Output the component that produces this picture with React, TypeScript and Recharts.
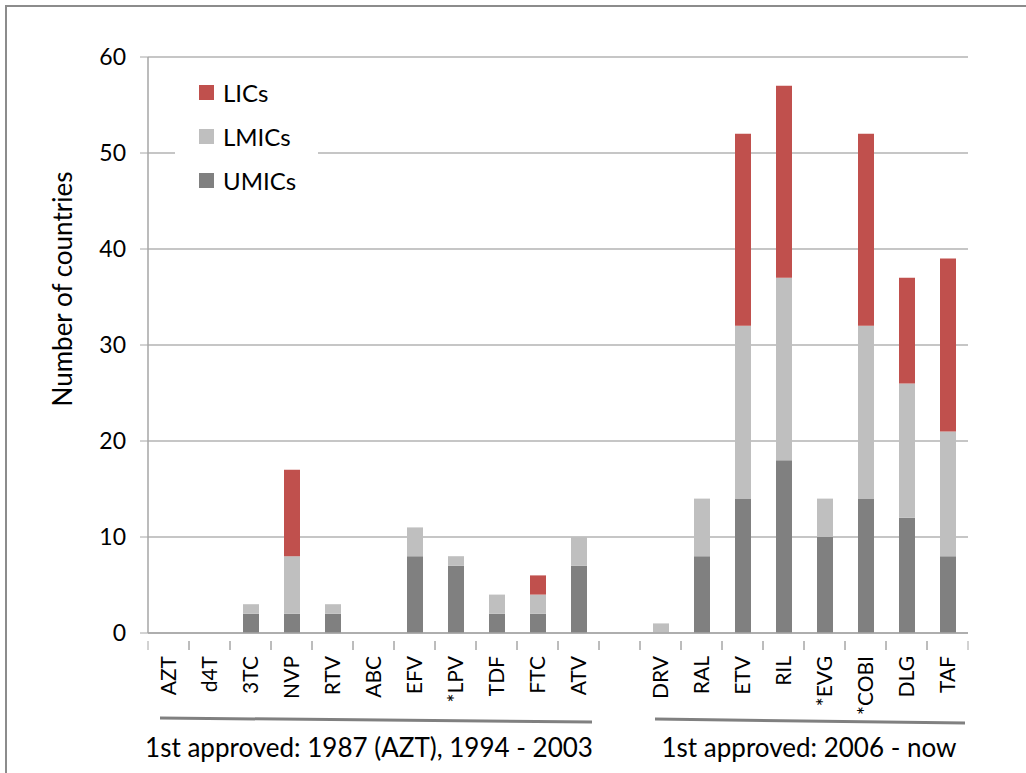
import React from 'react';
import { BarChart, Bar, XAxis, YAxis, CartesianGrid } from 'recharts';

// drug categories, "" is the spacer slot between the two approval periods
const drugs = ['AZT', 'd4T', '3TC', 'NVP', 'RTV', 'ABC', 'EFV', '*LPV', 'TDF', 'FTC', 'ATV', '', 'DRV', 'RAL', 'ETV', 'RIL', '*EVG', '*COBI', 'DLG', 'TAF'];
const umics = [0, 0, 2, 2, 2, 0, 8, 7, 2, 2, 7, 0, 0, 8, 14, 18, 10, 14, 12, 8];
const lmics = [0, 0, 1, 6, 1, 0, 3, 1, 2, 2, 3, 0, 1, 6, 18, 19, 4, 18, 14, 13];
const lics = [0, 0, 0, 9, 0, 0, 0, 0, 0, 2, 0, 0, 0, 0, 20, 20, 0, 20, 11, 18];
const yTicks = [0, 10, 20, 30, 40, 50, 60];

const data = drugs.map((name, i) => ({ name, UMICs: umics[i], LMICs: lmics[i], LICs: lics[i] }));

const FONT = 'Lato, "Liberation Sans", sans-serif';
const AXIS = '#a6a6a6';
const SLOT = 41;

const legendItems = [
  { label: 'LICs', color: '#c0504d' },
  { label: 'LMICs', color: '#bfbfbf' },
  { label: 'UMICs', color: '#808080' },
];

function DrugTick(props: any) {
  const { x, y, payload } = props;
  return (
    <g>
      <line x1={x - SLOT / 2} y1={y} x2={x - SLOT / 2} y2={y + 9} stroke={AXIS} />
      <line x1={x + SLOT / 2} y1={y} x2={x + SLOT / 2} y2={y + 9} stroke={AXIS} />
      <text
        transform={`translate(${x},${y + 15}) rotate(-90)`}
        textAnchor="end"
        dy="0.36em"
        fontSize={21}
        fontFamily={FONT}
        fill="#000"
      >
        {payload.value}
      </text>
    </g>
  );
}

export default function App() {
  return (
    <div style={{ position: 'absolute', left: 0, top: 0, width: 1026, height: 773, background: '#fff', overflow: 'hidden' }}>
      <div style={{ position: 'absolute', left: 5, top: 5, width: 1040, height: 800, borderLeft: '2px solid #8c8c8c', borderTop: '2px solid #8c8c8c' }} />
      <BarChart
        width={1026}
        height={773}
        data={data}
        margin={{ top: 57, right: 58, bottom: 0, left: 0 }}
        barSize={16}
      >
        <CartesianGrid vertical={false} stroke="#b3b3b3" strokeWidth={1.3} />
        <XAxis
          dataKey="name"
          interval={0}
          height={140}
          axisLine={{ stroke: AXIS, strokeWidth: 1.5 }}
          tickLine={false}
          tick={<DrugTick />}
        />
        <YAxis
          width={148}
          domain={[0, 60]}
          ticks={yTicks}
          axisLine={{ stroke: AXIS, strokeWidth: 1.5 }}
          tickLine={{ stroke: AXIS }}
          tickSize={8}
          tickMargin={14}
          tick={{ fontSize: 23, fontFamily: FONT, fill: '#000' }}
        />
        <Bar dataKey="UMICs" stackId="a" fill="#808080" isAnimationActive={false} />
        <Bar dataKey="LMICs" stackId="a" fill="#bfbfbf" isAnimationActive={false} />
        <Bar dataKey="LICs" stackId="a" fill="#c0504d" isAnimationActive={false} />
      </BarChart>
      <div style={{ position: 'absolute', left: 175, top: 70, width: 143, background: '#fff', fontFamily: FONT, fontSize: 24 }}>
        {legendItems.map((it) => (
          <div key={it.label} style={{ display: 'flex', alignItems: 'center', height: 44, paddingLeft: 24 }}>
            <span style={{ width: 15, height: 15, background: it.color, marginRight: 9 }} />
            <span>{it.label}</span>
          </div>
        ))}
      </div>
      <svg width={1026} height={773} style={{ position: 'absolute', left: 0, top: 0, pointerEvents: 'none' }}>
        <text transform="translate(72,289) rotate(-90)" textAnchor="middle" fontSize={26} fontFamily={FONT} fill="#000">Number of countries</text>
        <line x1={160} y1={718} x2={592} y2={722} stroke="#808080" strokeWidth={3} />
        <line x1={655} y1={719} x2={965} y2={723} stroke="#808080" strokeWidth={3} />
        <text x={369} y={757} textAnchor="middle" fontSize={26} fontFamily={FONT} fill="#000">1st approved: 1987 (AZT), 1994 - 2003</text>
        <text x={809} y={757} textAnchor="middle" fontSize={26} fontFamily={FONT} fill="#000">1st approved: 2006 - now</text>
      </svg>
    </div>
  );
}
